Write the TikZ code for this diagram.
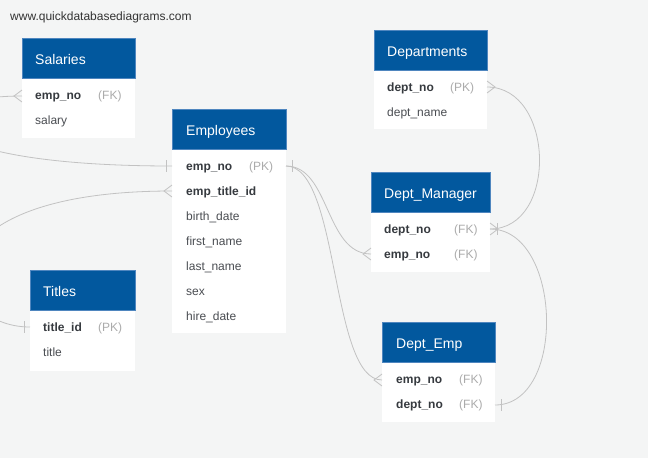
\documentclass[tikz,border=0pt]{standalone}
\usepackage{fontspec}
\setmainfont{Liberation Sans}
\definecolor{canvas}{HTML}{F4F5F5}
\definecolor{hdrblue}{HTML}{02589E}
\definecolor{hdredge}{HTML}{4F86BF}
\definecolor{keytext}{HTML}{363A3F}
\definecolor{fldtext}{HTML}{4A4D52}
\definecolor{tagtext}{HTML}{ABABAB}
\definecolor{linec}{HTML}{C2C2C2}
\definecolor{marktext}{HTML}{333333}

\tikzset{
  hdr/.style={fill=hdrblue, draw=hdredge, line width=0.7pt, inner sep=0, anchor=north west},
  tblbody/.style={fill=white, inner sep=0, anchor=north west},
  tbltitle/.style={anchor=base west, inner sep=0, text=white, font=\fontsize{14}{16}\selectfont},
  keyfld/.style={anchor=base west, inner sep=0, text=keytext, font=\bfseries\fontsize{12}{14}\selectfont},
  fld/.style={anchor=base west, inner sep=0, text=fldtext, font=\fontsize{12}{14}\selectfont},
  tag/.style={anchor=base west, inner sep=0, text=tagtext, font=\fontsize{12}{14}\selectfont},
  rel/.style={draw=linec, line width=0.8pt},
}

% crow's foot: toes on the table edge, dir = +1 (opens right) or -1 (opens left)
\newcommand{\crowfoot}[2]{\draw[rel] (#1) ++(0,-6) -- ++(#2*8,6) -- ++(-#2*8,6);}
% single bar at a given offset from the table edge
\newcommand{\onebar}[2]{\draw[rel] (#1) ++(#2,-6) -- ++(0,12);}

\begin{document}
\begin{tikzpicture}[x=1pt,y=-1pt]
\useasboundingbox (0,0) rectangle (648,458);
\clip (0,0) rectangle (648,458);
\fill[canvas] (0,0) rectangle (648,458);

\node[anchor=base west, inner sep=0, text=marktext, font=\fontsize{12}{14}\selectfont] (site) at (10,20) {www.quickdatabasediagrams.com};

% ---------- Salaries ----------
\node[tblbody, minimum width=113, minimum height=100] (salB) at (22,38) {};
\node[hdr, minimum width=113, minimum height=40] (salH) at (22,38) {};
\node[tbltitle] (salT) at (35,64) {Salaries};
\node[keyfld] (salF1) at (35,99.5) {emp\_no};
\node[tag] (salK1) at (98,99.5) {(FK)};
\node[fld] (salF2) at (35,124.5) {salary};

% ---------- Employees ----------
\node[tblbody, minimum width=114, minimum height=224] (empB) at (172,109) {};
\node[hdr, minimum width=114, minimum height=40] (empH) at (172,109) {};
\node[tbltitle] (empT) at (186,135) {Employees};
\node[keyfld] (empF1) at (186,170.5) {emp\_no};
\node[tag] (empK1) at (249,170.5) {(PK)};
\node[keyfld] (empF2) at (186,195.5) {emp\_title\_id};
\node[fld] (empF3) at (186,220.5) {birth\_date};
\node[fld] (empF4) at (186,245.5) {first\_name};
\node[fld] (empF5) at (186,270.5) {last\_name};
\node[fld] (empF6) at (186,295.5) {sex};
\node[fld] (empF7) at (186,320.5) {hire\_date};

% ---------- Departments ----------
\node[tblbody, minimum width=113, minimum height=99] (depB) at (374,30) {};
\node[hdr, minimum width=113, minimum height=40] (depH) at (374,30) {};
\node[tbltitle] (depT) at (387,56) {Departments};
\node[keyfld] (depF1) at (387,91.5) {dept\_no};
\node[tag] (depK1) at (450,91.5) {(PK)};
\node[fld] (depF2) at (387,116.5) {dept\_name};

% ---------- Dept_Manager ----------
\node[tblbody, minimum width=119, minimum height=100] (dmB) at (371,172) {};
\node[hdr, minimum width=119, minimum height=40] (dmH) at (371,172) {};
\node[tbltitle] (dmT) at (384,198) {Dept\_Manager};
\node[keyfld] (dmF1) at (384,233.5) {dept\_no};
\node[tag] (dmK1) at (454,233.5) {(FK)};
\node[keyfld] (dmF2) at (384,258.5) {emp\_no};
\node[tag] (dmK2) at (454,258.5) {(FK)};

% ---------- Titles ----------
\node[tblbody, minimum width=105, minimum height=101] (titB) at (30,270) {};
\node[hdr, minimum width=105, minimum height=40] (titH) at (30,270) {};
\node[tbltitle] (titT) at (43,296) {Titles};
\node[keyfld] (titF1) at (43,331.5) {title\_id};
\node[tag] (titK1) at (98,331.5) {(PK)};
\node[fld] (titF2) at (43,356.5) {title};

% ---------- Dept_Emp ----------
\node[tblbody, minimum width=113, minimum height=100] (deB) at (382,322) {};
\node[hdr, minimum width=113, minimum height=40] (deH) at (382,322) {};
\node[tbltitle] (deT) at (396,348) {Dept\_Emp};
\node[keyfld] (deF1) at (396,383.5) {emp\_no};
\node[tag] (deK1) at (459,383.5) {(FK)};
\node[keyfld] (deF2) at (396,408.5) {dept\_no};
\node[tag] (deK2) at (459,408.5) {(FK)};

% ---------- connector end points on the table edges ----------
\coordinate (salEmpL) at (22,96);
\coordinate (empNoL) at (172,166);
\coordinate (empNoR) at (286,166);
\coordinate (empTitleL) at (172,191);
\coordinate (titIdL) at (30,327);
\coordinate (depNoR) at (487,87);
\coordinate (dmDeptR) at (490,229);
\coordinate (dmEmpL) at (371,254);
\coordinate (deEmpL) at (382,380);
\coordinate (deDeptR) at (495,405);

% ---------- relationships ----------
\draw[rel] (salEmpL) .. controls (-100,96) and (-100,166) .. (empNoL);
\draw[rel] (empTitleL) .. controls (-90,191) and (-59,327) .. (titIdL);
\draw[rel] (empNoR) .. controls (330,166) and (325,254) .. (dmEmpL);
\draw[rel] (empNoR) .. controls (340,166) and (330,380) .. (deEmpL);
\draw[rel] (depNoR) .. controls (555,87) and (558,229) .. (dmDeptR);
\draw[rel] (dmDeptR) .. controls (562,229) and (567,405) .. (deDeptR);

% ---------- cardinality marks ----------
\crowfoot{salEmpL}{-1}
\onebar{empNoL}{-6}
\crowfoot{empTitleL}{-1}
\onebar{titIdL}{-6}
\onebar{empNoR}{6}
\crowfoot{dmEmpL}{-1}
\crowfoot{deEmpL}{-1}
\crowfoot{depNoR}{1}
\crowfoot{dmDeptR}{1}
\onebar{dmDeptR}{7}
\onebar{deDeptR}{6}

\end{tikzpicture}
\end{document}
